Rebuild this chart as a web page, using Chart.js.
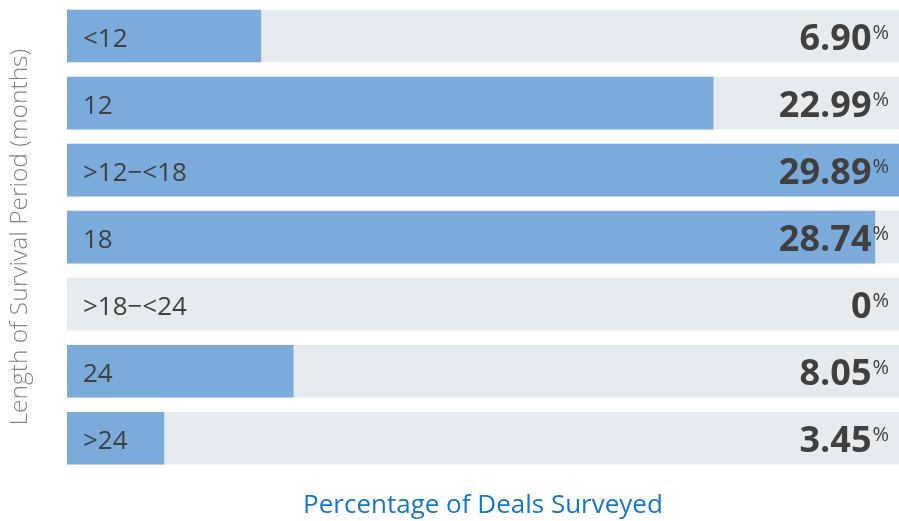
<!DOCTYPE html>
<html>
<head>
<meta charset="utf-8">
<script src="https://cdn.jsdelivr.net/npm/chart.js@4/dist/chart.umd.min.js"></script>
<style>
  html, body { margin:0; padding:0; background:#ffffff; }
  #wrap { width:899px; height:521px; position:relative; }
</style>
</head>
<body>
<div id="wrap"><canvas id="chart"></canvas></div>
<script>
// survival period buckets and share of deals (%)
const periods = ['<12', '12', '>12\u2212<18', '18', '>18\u2212<24', '24', '>24'];
const dealShare = [6.90, 22.99, 29.89, 28.74, 0, 8.05, 3.45];
const X_MAX = 29.6;
const trackValues = periods.map(() => X_MAX);

const BLUE = '#7aabdb';
const TRACK = '#e8ebee';
const TEXT = '#404040';

// draws the bucket name inside each bar and the value at the right end
const barLabels = {
    id: 'barLabels',
    afterDatasetsDraw(chart) {
        const ctx = chart.ctx;
        const area = chart.chartArea;
        const meta = chart.getDatasetMeta(1);
        ctx.save();
        meta.data.forEach((bar, i) => {
            const y = bar.y;
            ctx.fillStyle = TEXT;
            ctx.textBaseline = 'alphabetic';

            ctx.font = '26px "Open Sans"';
            ctx.textAlign = 'left';
            ctx.fillText(periods[i], area.left + 16, y + 10.5);

            const v = dealShare[i];
            const txt = v === 0 ? '0' : v.toFixed(2);
            ctx.font = '20px "Open Sans"';
            const pw = ctx.measureText('%').width;
            const pctX = area.right - 10 - pw;
            ctx.fillText('%', pctX, y + 3);

            ctx.font = 'bold 36px "Open Sans"';
            ctx.textAlign = 'right';
            ctx.fillText(txt, pctX - 1, y + 14);
        });
        ctx.restore();
    }
};

new Chart(document.getElementById('chart'), {
    type: 'bar',
    data: {
        labels: periods,
        datasets: [
            {
                data: trackValues,
                backgroundColor: TRACK,
                barThickness: 52,
                order: 2
            },
            {
                data: dealShare,
                backgroundColor: dealShare.map(v => v > 0 ? BLUE : 'rgba(0,0,0,0)'),
                barThickness: 52,
                order: 1
            }
        ]
    },
    options: {
        indexAxis: 'y',
        responsive: true,
        maintainAspectRatio: false,
        animation: false,
        layout: { padding: { top: 2.5, left: 0, right: 0, bottom: 0 } },
        plugins: {
            legend: { display: false },
            tooltip: { enabled: false }
        },
        scales: {
            x: {
                min: 0,
                max: X_MAX,
                stacked: false,
                grid: { display: false, drawTicks: false },
                border: { display: false },
                ticks: { display: false },
                title: {
                    display: true,
                    text: 'Percentage of Deals Surveyed',
                    color: '#1778c0',
                    font: { family: '"Open Sans"', size: 26 },
                    padding: { top: 18, bottom: 0 }
                }
            },
            y: {
                stacked: true,
                grid: { display: false, drawTicks: false },
                border: { display: false },
                ticks: { display: false },
                title: {
                    display: true,
                    text: 'Length of Survival Period (months)',
                    color: '#858585',
                    font: { family: '"Open Sans"', size: 24.5, weight: 300 },
                    padding: { top: 5.5, bottom: 32 }
                }
            }
        }
    },
    plugins: [barLabels]
});
</script>
</body>
</html>
